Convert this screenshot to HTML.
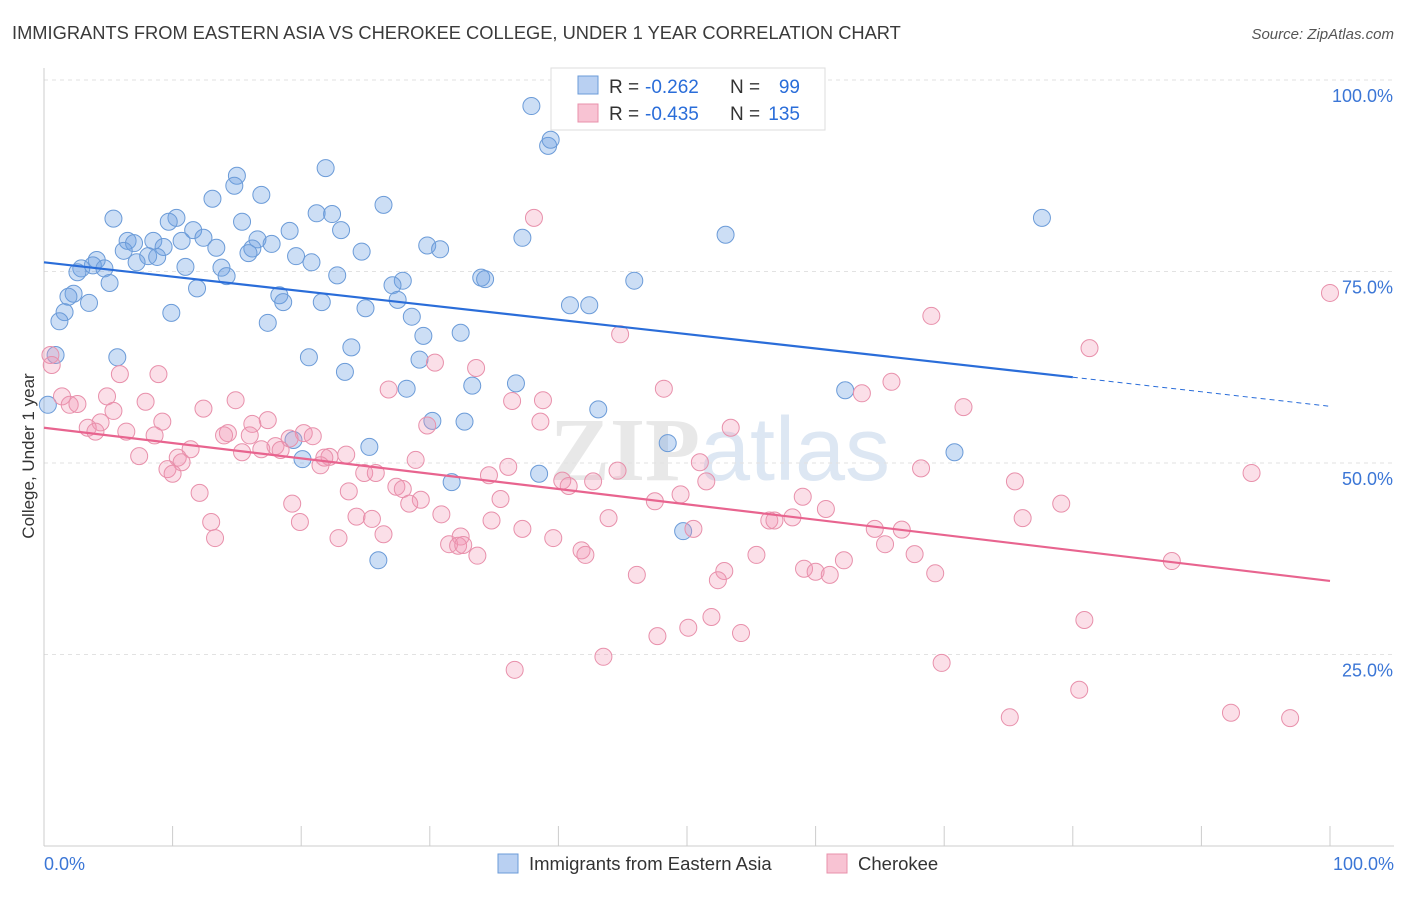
<!DOCTYPE html>
<html><head><meta charset="utf-8"><style>
body{margin:0;background:#fff;font-family:"Liberation Sans",sans-serif;}
svg text{font-family:"Liberation Sans",sans-serif;}
</style></head><body>
<svg id="chart" width="1406" height="892">
<text x="12" y="39" font-size="18.3" fill="#3a3a3a">IMMIGRANTS FROM EASTERN ASIA VS CHEROKEE COLLEGE, UNDER 1 YEAR CORRELATION CHART</text>
<text x="1394" y="39" font-size="15" fill="#555" font-style="italic" text-anchor="end">Source: ZipAtlas.com</text>
<text x="720" y="480" font-size="90" fill="#e6ebf2" text-anchor="middle" font-weight="bold"><tspan fill="#e8e8e8" font-family="Liberation Serif">ZIP</tspan><tspan fill="#dde7f3" font-weight="normal">atlas</tspan></text>
<g id="grid"></g><g id="axes"></g><g id="pts"></g><g id="lines"></g>
<text transform="translate(34,456) rotate(-90)" font-size="17" fill="#333" text-anchor="middle">College, Under 1 year</text>
<g>
<rect x="551" y="68" width="274" height="62" fill="#fff" stroke="#ddd"/>
<rect x="578" y="76" width="20" height="18" fill="#b9d0f2" stroke="#6b9bd8"/>
<rect x="578" y="104" width="20" height="18" fill="#f8c3d3" stroke="#e890ab"/>
<text x="609" y="93" font-size="19" fill="#333">R =</text>
<text x="645" y="93" font-size="19" fill="#2a6dd9">-0.262</text>
<text x="730" y="93" font-size="19" fill="#333">N =</text>
<text x="800" y="93" font-size="19" fill="#2a6dd9" text-anchor="end">99</text>
<text x="609" y="120" font-size="19" fill="#333">R =</text>
<text x="645" y="120" font-size="19" fill="#2a6dd9">-0.435</text>
<text x="730" y="120" font-size="19" fill="#333">N =</text>
<text x="800" y="120" font-size="19" fill="#2a6dd9" text-anchor="end">135</text>
</g>
<g>
<rect x="498" y="854" width="20" height="19" fill="#b9d0f2" stroke="#6b9bd8"/>
<text x="529" y="870" font-size="18.5" fill="#333">Immigrants from Eastern Asia</text>
<rect x="827" y="854" width="20" height="19" fill="#f8c3d3" stroke="#e890ab"/>
<text x="858" y="870" font-size="18.5" fill="#333">Cherokee</text>
</g>
</svg>
<script>
const blueX=[37.9,39.2,39.4,21.9,15.0,14.8,13.1,16.9,26.4,5.4,10.3,9.7,15.4,21.2,22.4,77.6,11.6,23.1,19.1,53.0,6.5,7.0,8.5,10.7,12.4,16.6,37.2,29.8,30.8,17.7,13.4,9.3,6.2,16.2,15.9,24.7,19.6,20.8,8.1,8.8,4.1,7.2,3.8,4.7,2.9,2.6,11.0,13.8,14.2,22.8,34.0,34.3,27.9,27.1,45.9,5.1,11.9,2.3,1.9,18.3,18.6,21.6,27.5,3.5,40.9,42.4,25.0,1.6,9.9,1.2,28.6,17.4,29.5,32.4,23.9,0.9,5.7,20.6,29.2,23.4,36.7,33.3,28.2,62.3,0.3,43.1,30.2,32.7,25.3,70.8,48.5,19.4,20.1,31.7,38.5,49.7,26.0];
const blueY=[96.6,91.4,92.2,88.5,87.5,86.2,84.5,85.0,83.7,81.9,82.0,81.5,81.5,82.6,82.5,82.0,80.4,80.4,80.3,79.8,79.0,78.7,79.0,79.0,79.4,79.2,79.4,78.4,77.9,78.6,78.1,78.2,77.7,78.0,77.4,77.6,77.0,76.2,77.0,76.9,76.5,76.2,75.8,75.4,75.4,74.9,75.6,75.5,74.4,74.5,74.2,74.0,73.8,73.2,73.8,73.5,72.8,72.1,71.7,71.9,71.0,71.0,71.3,70.9,70.6,70.6,70.2,69.7,69.6,68.5,69.1,68.3,66.6,67.0,65.1,64.1,63.8,63.8,63.5,61.9,60.4,60.1,59.7,59.5,57.6,57.0,55.5,55.4,52.1,51.4,52.6,53.0,50.5,47.5,48.6,41.1,37.3];
const pinkX=[38.1,100,69.0,44.8,81.3,0.5,0.6,30.4,33.6,5.9,8.9,65.9,48.2,26.8,63.6,1.4,4.9,14.9,38.8,36.4,7.9,2.0,2.6,71.5,12.4,5.4,17.4,16.2,9.2,4.4,38.6,29.8,3.4,4.0,6.4,53.4,14.3,14.0,16.0,8.6,20.2,20.9,19.1,18.0,16.9,11.4,18.4,15.4,23.5,22.2,21.8,7.4,10.4,10.7,28.9,51.0,21.5,9.6,10.0,68.2,93.9,24.9,25.8,36.1,34.6,44.6,40.3,42.7,40.8,51.5,75.5,27.4,27.9,23.7,12.1,49.5,59.0,47.5,35.5,29.3,28.4,19.3,79.1,60.8,30.9,24.3,25.5,43.9,34.8,56.4,56.8,58.2,76.1,13.0,19.9,37.2,50.5,64.6,66.7,26.4,32.4,13.3,22.9,39.6,31.5,32.2,32.6,65.4,41.8,42.1,33.7,55.4,67.7,62.2,87.7,59.1,60.0,52.9,61.1,46.1,69.3,52.4,51.9,80.9,50.1,54.2,47.7,43.5,69.8,36.6,80.5,75.1,92.3,96.9];
const pinkY=[82.0,72.2,69.2,66.8,65.0,64.1,62.8,63.1,62.4,61.6,61.6,60.6,59.7,59.6,59.1,58.7,58.7,58.2,58.2,58.1,58.0,57.6,57.7,57.3,57.1,56.8,55.6,55.1,55.4,55.3,55.4,54.9,54.6,54.1,54.1,54.6,53.9,53.6,53.6,53.6,53.9,53.5,53.2,52.2,51.8,51.8,51.7,51.4,51.1,50.8,50.7,50.9,50.7,50.1,50.4,50.1,49.7,49.2,48.6,49.3,48.7,48.7,48.7,49.5,48.4,49.0,47.7,47.6,47.0,47.6,47.6,46.9,46.6,46.3,46.1,45.9,45.6,45.0,45.3,45.2,44.7,44.7,44.7,44.0,43.3,43.0,42.7,42.8,42.5,42.5,42.5,42.9,42.8,42.3,42.3,41.4,41.4,41.4,41.3,40.7,40.4,40.2,40.2,40.2,39.4,39.2,39.3,39.4,38.6,38.0,37.9,38.0,38.1,37.3,37.2,36.2,35.8,35.9,35.4,35.4,35.6,34.7,29.9,29.5,28.5,27.8,27.4,24.7,23.9,23.0,20.4,16.8,17.4,16.7];
const blueTrend=[[0,76.2],[80,61.2],[100,57.4]];
const pinkTrend=[[0,54.6],[100,34.6]];
const yTicks=[25,50,75,100];
const yTickLabels=["25.0%","50.0%","75.0%","100.0%"];
const xTicks=[0,10,20,30,40,50,60,70,80,90,100];

const X=v=>44+v*12.86, Y=v=>846-v*7.66;
const NS="http://www.w3.org/2000/svg";
function mk(tag,attrs,parent){const e=document.createElementNS(NS,tag);for(const k in attrs)e.setAttribute(k,attrs[k]);document.getElementById(parent).appendChild(e);return e;}
yTicks.forEach((t,i)=>{
 const l=mk('line',{x1:44,x2:1394,y1:Y(t),y2:Y(t),stroke:'#e2e2e2','stroke-dasharray':'4,4'},'grid');
 
 
 const tx=mk('text',{x:1393,y:Y(t)+22,'font-size':18,fill:'#3b76d6','text-anchor':'end'},'grid');tx.textContent=yTickLabels[i];
 
 
});
const ya=mk('line',{x1:44,x2:44,y1:68,y2:846,stroke:'#ccc'},'axes');


const xa=mk('line',{x1:44,x2:1394,y1:846,y2:846,stroke:'#ccc'},'axes');


xTicks.forEach(t=>{const l=mk('line',{x1:X(t),x2:X(t),y1:826,y2:846,stroke:'#ccc'},'axes');
 
 });
const xl0=mk('text',{x:44,y:870,'font-size':18,fill:'#3b76d6'},'axes');xl0.textContent='0.0%';


const xl1=mk('text',{x:1394,y:870,'font-size':18,fill:'#3b76d6','text-anchor':'end'},'axes');xl1.textContent='100.0%';


blueX.forEach((v,i)=>{const c=mk('circle',{cx:X(v),cy:Y(blueY[i]),r:8.5,fill:'rgba(110,160,225,0.35)',stroke:'#6b9bd8','stroke-width':1},'pts');
 
 });
pinkX.forEach((v,i)=>{const c=mk('circle',{cx:X(v),cy:Y(pinkY[i]),r:8.5,fill:'rgba(242,150,178,0.3)',stroke:'#e890ab','stroke-width':1},'pts');
 
 });
const b1=mk('line',{x1:X(blueTrend[0][0]),y1:Y(blueTrend[0][1]),x2:X(blueTrend[1][0]),y2:Y(blueTrend[1][1]),stroke:'#2a6dd9','stroke-width':2.2},'lines');


const b2=mk('line',{x1:X(blueTrend[1][0]),y1:Y(blueTrend[1][1]),x2:X(blueTrend[2][0]),y2:Y(blueTrend[2][1]),stroke:'#2a6dd9','stroke-width':1,'stroke-dasharray':'5,4'},'lines');


const p1=mk('line',{x1:X(pinkTrend[0][0]),y1:Y(pinkTrend[0][1]),x2:X(pinkTrend[1][0]),y2:Y(pinkTrend[1][1]),stroke:'#e8648f','stroke-width':2.2},'lines');


</script>
</body></html>
